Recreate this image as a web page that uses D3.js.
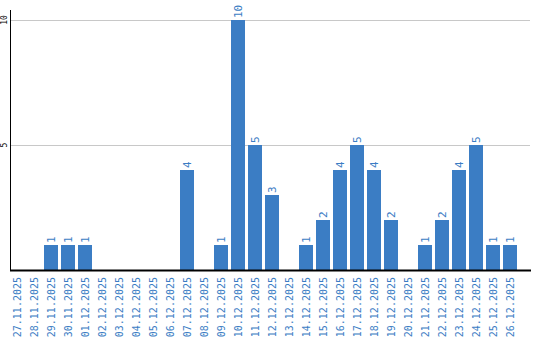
<!DOCTYPE html>
<html>
<head>
<meta charset="utf-8">
<script src="https://cdn.jsdelivr.net/npm/d3@7"></script>
<style>
  body { margin: 0; background: #fff; }
  svg text { font-family: "DejaVu Sans Mono", monospace; }
</style>
</head>
<body>
<svg width="540" height="340"></svg>
<script>
var dates = ["27.11.2025","28.11.2025","29.11.2025","30.11.2025","01.12.2025","02.12.2025",
  "03.12.2025","04.12.2025","05.12.2025","06.12.2025","07.12.2025","08.12.2025","09.12.2025",
  "10.12.2025","11.12.2025","12.12.2025","13.12.2025","14.12.2025","15.12.2025","16.12.2025",
  "17.12.2025","18.12.2025","19.12.2025","20.12.2025","21.12.2025","22.12.2025","23.12.2025",
  "24.12.2025","25.12.2025","26.12.2025"];
var counts = [0,0,1,1,1,0,0,0,0,0,4,0,1,10,5,3,0,1,2,4,5,4,2,0,1,2,4,5,1,1];
var yTicks = [5, 10];

var blue = "#3b7dc4";
var svg = d3.select("svg");

var x = d3.scaleBand().domain(dates).range([8.5, 518.5])
  .paddingInner(3/17).paddingOuter(3/34);
var y = d3.scaleLinear().domain([0, 10]).range([270, 20]);

// grid
svg.append("g").selectAll("line").data(yTicks).enter().append("line")
  .attr("x1", 11).attr("x2", 530)
  .attr("y1", function(d) { return y(d) + 0.5; })
  .attr("y2", function(d) { return y(d) + 0.5; })
  .style("stroke", "#c8c8c8").style("stroke-width", "1px");

// bars
var data = dates.map(function(d, i) { return {date: d, value: counts[i]}; });
svg.append("g").selectAll("rect").data(data.filter(function(d) { return d.value > 0; }))
  .enter().append("rect")
  .attr("x", function(d) { return x(d.date); })
  .attr("width", x.bandwidth())
  .attr("y", function(d) { return y(d.value); })
  .attr("height", function(d) { return y(0) - y(d.value); })
  .style("fill", blue);

// value labels
svg.append("g").selectAll("text").data(data.filter(function(d) { return d.value > 0; }))
  .enter().append("text")
  .attr("transform", function(d) {
    return "translate(" + (x(d.date) + x.bandwidth() / 2 + 3.5) + "," + (y(d.value) - 2) + ") rotate(-90)";
  })
  .style("font-size", "11px").style("fill", blue)
  .text(function(d) { return d.value; });

// axes lines
svg.append("line").attr("x1", 10.5).attr("x2", 10.5).attr("y1", 10).attr("y2", 270.5)
  .style("stroke", "#000");
svg.append("line").attr("x1", 10).attr("x2", 531).attr("y1", 270.5).attr("y2", 270.5)
  .style("stroke", "#000").style("stroke-width", "2px");

// y tick labels
svg.append("g").selectAll("text").data(yTicks).enter().append("text")
  .attr("transform", function(d) { return "translate(7," + y(d) + ") rotate(-90)"; })
  .attr("text-anchor", "middle")
  .style("font-size", "8px").style("fill", "#000")
  .text(function(d) { return d; });

// x tick labels
svg.append("g").selectAll("text").data(dates).enter().append("text")
  .attr("transform", function(d) {
    return "translate(" + (x(d) + x.bandwidth() / 2 + 4) + ",277) rotate(-90)";
  })
  .attr("text-anchor", "end")
  .style("font-size", "10px").style("fill", blue)
  .text(function(d) { return d; });
</script>
</body>
</html>
